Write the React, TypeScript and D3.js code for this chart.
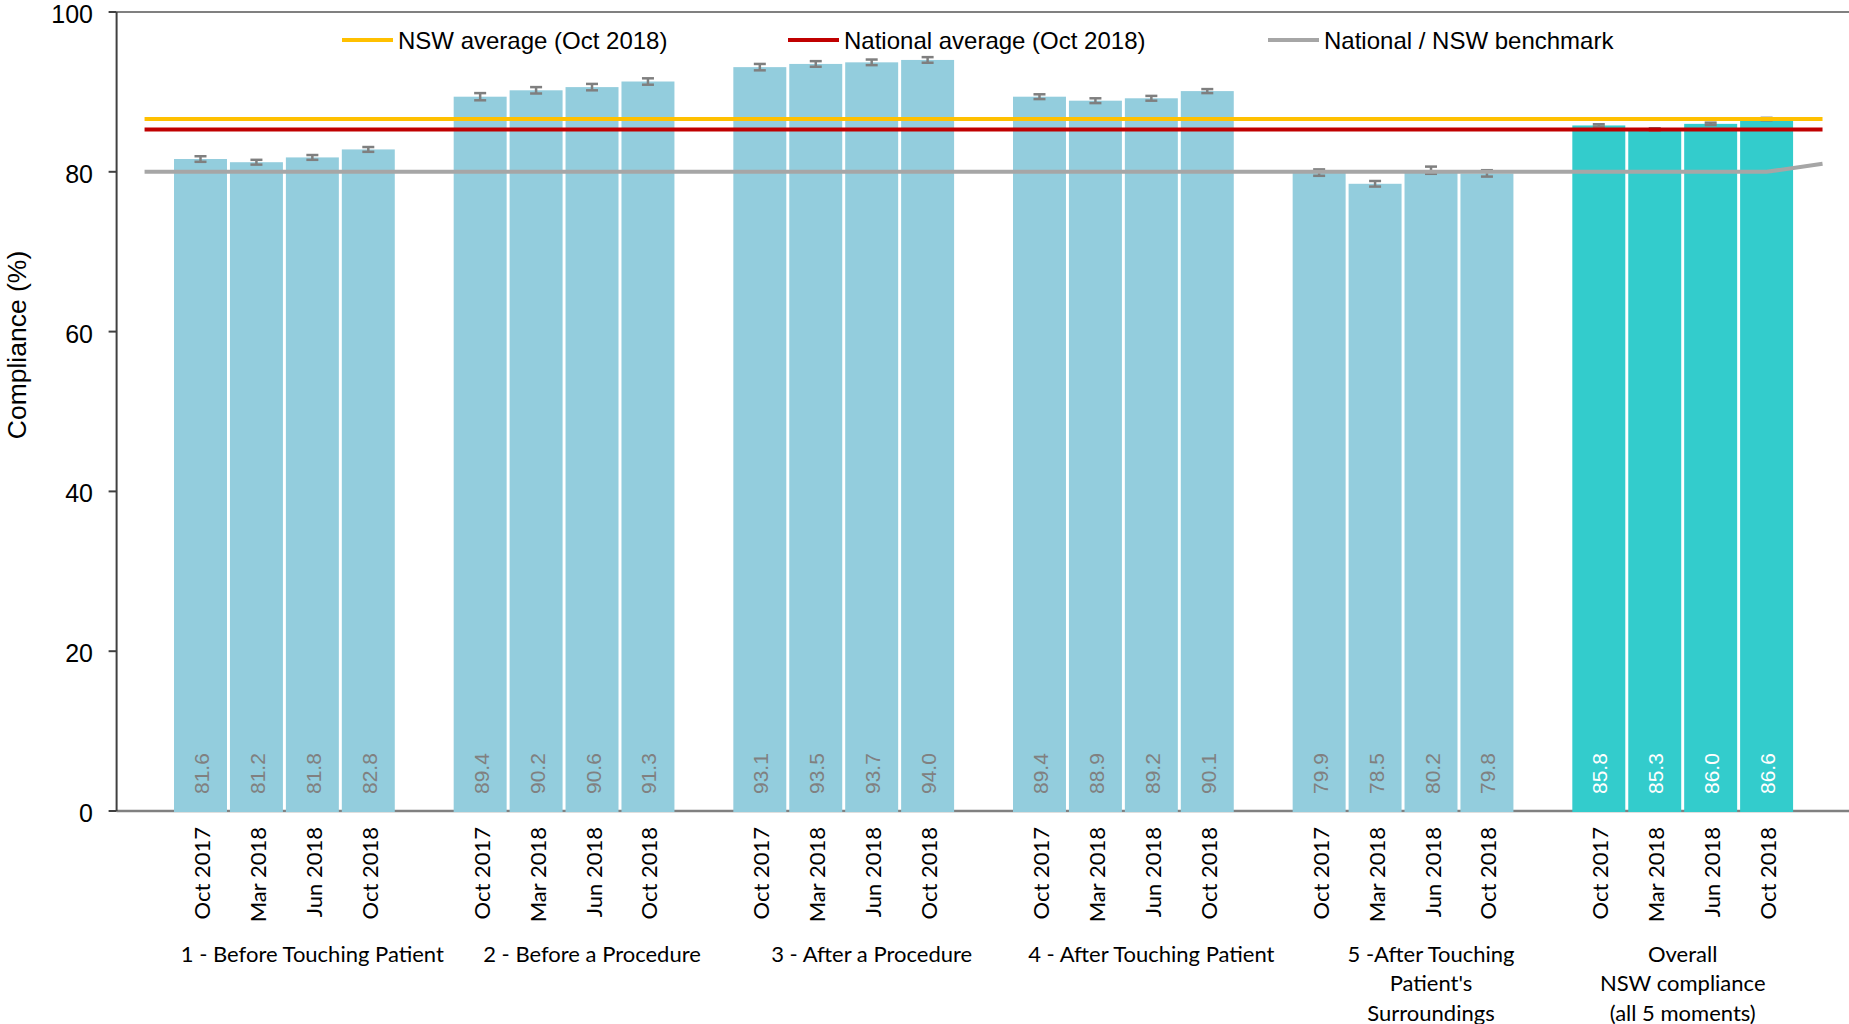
import React from "react";
import * as d3 from "d3";

const groups: string[][] = [
  ["1 - Before Touching Patient"],
  ["2 - Before a Procedure"],
  ["3 - After a Procedure"],
  ["4 - After Touching Patient"],
  ["5 -After Touching", "Patient's", "Surroundings"],
  ["Overall", "NSW compliance", "(all 5 moments)"],
];
const periods = ["Oct 2017", "Mar 2018", "Jun 2018", "Oct 2018"];
const values: number[][] = [
  [81.6, 81.2, 81.8, 82.8],
  [89.4, 90.2, 90.6, 91.3],
  [93.1, 93.5, 93.7, 94.0],
  [89.4, 88.9, 89.2, 90.1],
  [79.9, 78.5, 80.2, 79.8],
  [85.8, 85.3, 86.0, 86.6],
];
const errors: number[][] = [
  [0.35, 0.3, 0.3, 0.3],
  [0.45, 0.4, 0.4, 0.4],
  [0.4, 0.35, 0.35, 0.35],
  [0.3, 0.3, 0.3, 0.25],
  [0.4, 0.35, 0.45, 0.4],
  [0.15, 0.15, 0.15, 0.15],
];
// benchmark line, one value per slot (31 slots incl. gaps)
const benchmark = [
  80, 80, 80, 80, 80, 80, 80, 80, 80, 80, 80, 80, 80, 80, 80, 80, 80, 80, 80, 80,
  80, 80, 80, 80, 80, 80, 80, 80, 80, 80, 81,
];
const nswAverage = 86.6;
const nationalAverage = 85.3;
const yTicks = [0, 20, 40, 60, 80, 100];
const legendItems = [
  { label: "NSW average (Oct 2018)", color: "#FFC000" },
  { label: "National average (Oct 2018)", color: "#C00000" },
  { label: "National / NSW benchmark", color: "#A6A6A6" },
];

const W = 1849;
const H = 1024;
const left = 116.6;
const right = 1850.5;
const nSlots = benchmark.length;

export default function App() {
  const x = d3
    .scaleBand<number>()
    .domain(d3.range(nSlots))
    .range([left, right])
    .padding(0);
  const bw = x.bandwidth();
  const cx = (i: number) => (x(i) as number) + bw / 2;
  const y = d3.scaleLinear().domain([0, 100]).range([811, 12]);
  const barW = bw * 0.947;
  const slotOf = (g: number, p: number) => 5 * g + 1 + p;

  const line = d3
    .line<number>()
    .x((_, i) => cx(i))
    .y((d) => y(d));

  const legendX = [342, 788, 1268];
  const arial = "'Liberation Sans', Arial, sans-serif";
  const calibri = "Lato, 'Open Sans', sans-serif";

  return (
    <div style={{ position: "absolute", left: 0, top: 0 }}>
      <svg width={W} height={H} style={{ display: "block", background: "#fff" }}>
        {/* top border */}
        <line x1={left} x2={W} y1={y(100)} y2={y(100)} stroke="#808080" strokeWidth={2} />
        {/* x axis */}
        <line x1={left} x2={W} y1={y(0)} y2={y(0)} stroke="#808080" strokeWidth={2.5} />
        {/* y axis */}
        <line x1={left} x2={left} y1={y(100)} y2={y(0)} stroke="#404040" strokeWidth={2} />
        {yTicks.map((t) => (
          <g key={t}>
            <line x1={left - 8} x2={left} y1={y(t)} y2={y(t)} stroke="#404040" strokeWidth={2} />
            <text
              x={93}
              y={y(t) + 2}
              textAnchor="end"
              dominantBaseline="central"
              fontFamily={arial}
              fontSize={25}
              fill="#000"
            >
              {t}
            </text>
          </g>
        ))}
        <text
          transform={`translate(17,345) rotate(-90)`}
          textAnchor="middle"
          dominantBaseline="central"
          fontFamily={arial}
          fontSize={26.5}
          fill="#000"
        >
          Compliance (%)
        </text>

        {/* bars */}
        {values.map((row, g) =>
          row.map((v, p) => {
            const s = slotOf(g, p);
            const overall = g === groups.length - 1;
            return (
              <rect
                key={`b${g}-${p}`}
                x={cx(s) - barW / 2}
                y={y(v)}
                width={barW}
                height={y(0) + 1 - y(v)}
                fill={overall ? "#33CCCC" : "#93CDDD"}
              />
            );
          })
        )}
        {/* error bars */}
        {values.map((row, g) =>
          row.map((v, p) => {
            const s = slotOf(g, p);
            const e = errors[g][p];
            const c = cx(s);
            return (
              <g key={`e${g}-${p}`} stroke="#7F7F7F" strokeWidth={2.5}>
                <line x1={c} x2={c} y1={y(v + e)} y2={y(v - e)} />
                <line x1={c - 6} x2={c + 6} y1={y(v + e)} y2={y(v + e)} />
                <line x1={c - 6} x2={c + 6} y1={y(v - e)} y2={y(v - e)} />
              </g>
            );
          })
        )}
        {/* value labels */}
        {values.map((row, g) =>
          row.map((v, p) => {
            const s = slotOf(g, p);
            const overall = g === groups.length - 1;
            return (
              <text
                key={`v${g}-${p}`}
                transform={`translate(${cx(s) + 1},${y(0) - 17}) rotate(-90)`}
                textAnchor="start"
                dominantBaseline="central"
                fontFamily={arial}
                fontSize={21}
                fill={overall ? "#FFFFFF" : "#808080"}
              >
                {v.toFixed(1)}
              </text>
            );
          })
        )}

        {/* reference lines */}
        <line x1={cx(0)} x2={cx(nSlots - 1)} y1={y(nswAverage)} y2={y(nswAverage)} stroke="#FFC000" strokeWidth={4} />
        <line x1={cx(0)} x2={cx(nSlots - 1)} y1={y(nationalAverage)} y2={y(nationalAverage)} stroke="#C00000" strokeWidth={4} />
        <path d={line(benchmark) || ""} fill="none" stroke="#A6A6A6" strokeWidth={4} strokeLinejoin="round" />

        {/* period labels */}
        {values.map((row, g) =>
          row.map((_, p) => {
            const s = slotOf(g, p);
            return (
              <text
                key={`p${g}-${p}`}
                transform={`translate(${cx(s) + 1},${y(0) + 16}) rotate(-90)`}
                textAnchor="end"
                dominantBaseline="central"
                fontFamily={calibri}
                fontSize={22}
                fill="#000"
              >
                {periods[p]}
              </text>
            );
          })
        )}
        {/* group labels */}
        {groups.map((lines, g) => {
          const last = g === groups.length - 1;
          const first = cx(slotOf(g, 0));
          const lastBar = cx(slotOf(g, periods.length - 1));
          const center = last ? (first + lastBar) / 2 : (first + lastBar + bw) / 2;
          return (
            <text
              key={`g${g}`}
              textAnchor="middle"
              fontFamily={calibri}
              fontSize={22}
              fill="#000"
            >
              {lines.map((l, i) => (
                <tspan key={i} x={center} y={953 + i * 29.5} dominantBaseline="central">
                  {l}
                </tspan>
              ))}
            </text>
          );
        })}

        {/* legend */}
        {legendItems.map((it, i) => (
          <g key={it.label}>
            <line x1={legendX[i]} x2={legendX[i] + 51} y1={40} y2={40} stroke={it.color} strokeWidth={4} />
            <text
              x={legendX[i] + 56}
              y={40}
              dominantBaseline="central"
              fontFamily={arial}
              fontSize={24}
              fill="#000"
            >
              {it.label}
            </text>
          </g>
        ))}
      </svg>
    </div>
  );
}
